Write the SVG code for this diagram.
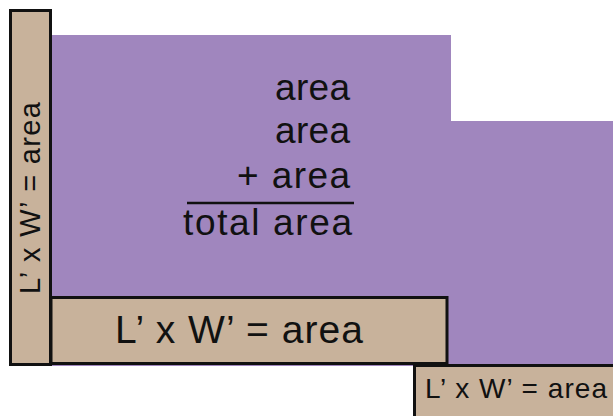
<svg xmlns="http://www.w3.org/2000/svg" width="613" height="416" viewBox="0 0 613 416">
<style>
.tan{fill:#c8b29b;stroke:#111;stroke-width:3}
.t{font-family:"Liberation Sans",Arial,sans-serif;fill:#111}
.s{font-size:37px}
</style>
<rect width="613" height="416" fill="#fff"/>
<g id="region">
<polygon points="52,35 451,35 451,121 613,121 613,366 52,366" fill="#a086be"/>
</g>
<g id="sum">
<text class="t s" x="350" y="100" text-anchor="end" textLength="75" lengthAdjust="spacing">area</text>
<text class="t s" x="350" y="143" text-anchor="end" textLength="75" lengthAdjust="spacing">area</text>
<text class="t s" x="350" y="188" text-anchor="end" textLength="113" lengthAdjust="spacing">+ area</text>
<line x1="187" y1="203" x2="354" y2="203" stroke="#111" stroke-width="2.5"/>
<text class="t s" x="183" y="235" textLength="169" lengthAdjust="spacing">total area</text>
</g>
<g id="left-strip">
<rect class="tan" x="10.5" y="10.5" width="40" height="354"/>
<text class="t" transform="translate(40,294) rotate(-90)" font-size="29" textLength="192" lengthAdjust="spacing">L’ x W’ = area</text>
</g>
<g id="bottom-strip">
<rect class="tan" x="51" y="297.5" width="396" height="66"/>
<text class="t" x="115" y="343" font-size="39" textLength="248" lengthAdjust="spacing">L’ x W’ = area</text>
</g>
<g id="corner-strip">
<rect class="tan" x="414.5" y="365.5" width="210" height="60"/>
<text class="t" x="425" y="398" font-size="28" textLength="182" lengthAdjust="spacing">L’ x W’ = area</text>
</g>
</svg>
